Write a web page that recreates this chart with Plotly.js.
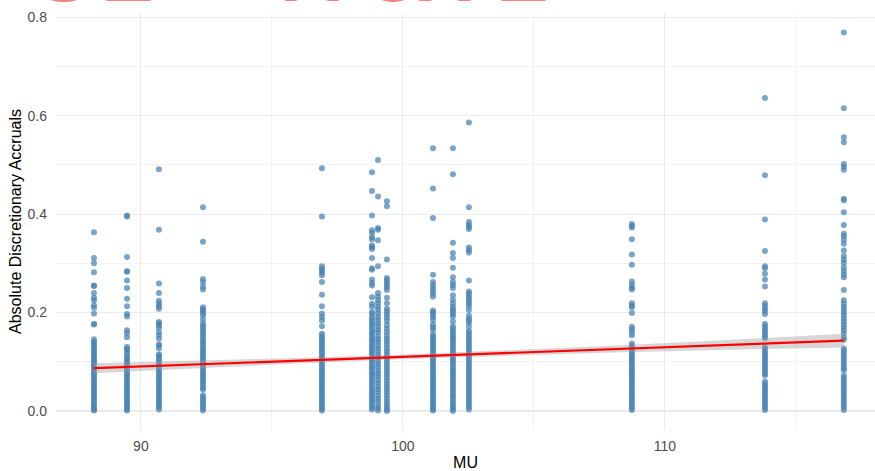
<!DOCTYPE html>
<html>
<head>
<meta charset="utf-8">
<script src="https://cdn.plot.ly/plotly-3.0.1.min.js"></script>
<style>html,body{margin:0;padding:0;background:#fff;}#chart{width:875px;height:471px;}</style>
</head>
<body>
<div id="chart"></div>
<script>
// MU levels (x positions of the vertical point columns)
const muLevels = [88.21, 89.47, 90.69, 92.37, 96.91, 98.82, 99.05, 99.39, 101.15, 101.91, 102.52, 108.74, 113.82, 116.83];

// Absolute discretionary accruals per MU level
const aa_88_21 = [0.363,0.311,0.300,0.282,0.255,0.254,0.240,0.230,0.225,0.215,0.210,0.198,0.177,0.176,
  0.146,0.141,0.137,0.132,0.128,0.124,0.119,0.115,0.111,0.106,0.102,0.098,0.093,0.089,0.085,0.080,0.076,0.072,0.067,0.063,0.059,0.054,0.050,0.046,0.041,0.037,0.033,0.028,0.024,0.020,0.015,0.011,0.007,0.003,0.001];
const aa_89_47 = [0.397,0.395,0.313,0.284,0.283,0.265,0.250,0.228,0.213,0.197,0.192,0.164,0.158,0.150,0.130,0.126,0.123,
  0.117,0.112,0.107,0.103,0.098,0.094,0.089,0.085,0.080,0.075,0.071,0.066,0.062,0.057,0.053,0.048,0.044,0.039,0.035,0.030,0.026,0.021,0.017,0.012,0.008,0.004,0.001];
const aa_90_69 = [0.491,0.368,0.259,0.240,0.224,0.218,0.213,0.208,0.181,0.178,0.174,0.169,0.160,0.154,0.147,0.135,0.133,0.127,0.115,0.113,
  0.108,0.104,0.099,0.094,0.090,0.085,0.081,0.076,0.071,0.067,0.062,0.058,0.053,0.049,0.044,0.039,0.035,0.030,0.026,0.021,0.017,0.012,0.008,0.003];
const aa_92_37 = [0.414,0.344,0.268,0.262,0.253,0.247,0.211,0.207,0.203,0.199,0.194,0.186,0.178,0.173,0.168,0.163,0.158,0.153,0.147,0.142,0.137,0.131,0.126,
  0.121,0.116,0.112,0.107,0.102,0.098,0.093,0.089,0.084,0.079,0.075,0.070,0.066,0.061,0.057,0.052,0.047,0.044,0.032,0.028,0.023,0.019,0.014,0.010,0.005,0.001];
const aa_96_91 = [0.493,0.395,0.294,0.289,0.285,0.281,0.276,0.262,0.236,0.213,0.198,0.191,0.184,0.172,0.157,0.153,0.148,0.144,0.139,0.135,0.130,0.126,0.121,0.117,
  0.112,0.108,0.103,0.099,0.094,0.090,0.085,0.081,0.076,0.072,0.067,0.063,0.058,0.054,0.049,0.045,0.040,0.036,0.031,0.027,0.022,0.018,0.013,0.009,0.004,0.001];
const aa_98_82 = [0.485,0.447,0.397,0.367,0.362,0.353,0.349,0.336,0.333,0.329,0.311,0.290,0.287,0.267,0.260,0.255,0.231,0.218,0.212,0.201,0.197,
  0.190,0.185,0.180,0.176,0.171,0.166,0.161,0.157,0.152,0.147,0.143,0.138,0.133,0.129,0.124,0.119,0.115,0.110,0.105,0.101,0.096,0.091,0.087,0.082,0.077,0.073,0.068,0.063,0.059,0.054,0.049,0.045,0.040,0.035,0.031,0.026,0.021,0.017,0.012,0.007,0.003];
const aa_99_05 = [0.510,0.436,0.372,0.368,0.347,0.294,0.240,0.232,0.225,0.219,0.212,0.206,0.198,0.191,0.185,0.178,0.172,0.165,0.160,0.152,0.146,0.140,0.133,0.127,
  0.121,0.114,0.108,0.101,0.095,0.089,0.082,0.076,0.070,0.063,0.057,0.050,0.044,0.038,0.031,0.025,0.019,0.012,0.006,0.001];
const aa_99_39 = [0.426,0.416,0.308,0.270,0.266,0.261,0.256,0.251,0.246,0.230,0.219,0.208,0.202,0.196,0.190,0.183,0.175,0.167,0.160,0.153,0.147,0.141,0.135,0.128,
  0.122,0.116,0.110,0.104,0.098,0.092,0.086,0.080,0.074,0.068,0.062,0.056,0.050,0.044,0.038,0.032,0.026,0.020,0.014,0.008,0.003,0.000];
const aa_101_15 = [0.534,0.452,0.392,0.277,0.262,0.256,0.250,0.245,0.238,0.232,0.204,0.200,0.196,0.191,0.185,0.176,0.170,0.166,0.157,0.152,0.148,0.143,0.139,0.134,0.130,
  0.125,0.121,0.116,0.112,0.107,0.103,0.098,0.094,0.089,0.085,0.080,0.076,0.071,0.067,0.062,0.058,0.053,0.049,0.044,0.040,0.035,0.031,0.026,0.022,0.017,0.013,0.008,0.004,0.001];
const aa_101_91 = [0.534,0.481,0.342,0.321,0.311,0.291,0.272,0.262,0.256,0.250,0.235,0.226,0.219,0.212,0.207,0.202,0.197,0.192,0.182,0.172,0.167,0.162,0.157,0.152,0.148,
  0.143,0.138,0.133,0.128,0.124,0.119,0.114,0.109,0.104,0.100,0.095,0.090,0.085,0.080,0.076,0.071,0.066,0.061,0.056,0.052,0.047,0.042,0.037,0.032,0.028,0.023,0.018,0.013,0.008,0.004,0.000];
const aa_102_52 = [0.586,0.414,0.384,0.378,0.374,0.370,0.332,0.327,0.322,0.265,0.243,0.238,0.233,0.228,0.223,0.218,0.213,0.205,0.194,0.188,0.184,0.180,0.172,0.163,0.158,
  0.153,0.148,0.143,0.138,0.133,0.128,0.123,0.118,0.113,0.108,0.103,0.098,0.093,0.088,0.083,0.078,0.073,0.068,0.063,0.058,0.053,0.048,0.043,0.038,0.033,0.028,0.023,0.018,0.013,0.008,0.003];
const aa_108_74 = [0.380,0.376,0.373,0.349,0.318,0.297,0.263,0.256,0.251,0.247,0.219,0.214,0.211,0.199,0.171,0.166,0.160,0.154,
  0.137,0.132,0.128,0.123,0.119,0.114,0.110,0.105,0.101,0.096,0.092,0.087,0.083,0.078,0.074,0.069,0.065,0.060,0.056,0.051,0.047,0.042,0.038,0.033,0.029,0.024,0.020,0.015,0.011,0.006,0.002];
const aa_113_82 = [0.636,0.479,0.389,0.325,0.294,0.290,0.279,0.267,0.253,0.219,0.214,0.208,0.203,0.197,0.177,0.172,0.167,0.162,0.157,0.152,0.148,
  0.130,0.126,0.121,0.117,0.112,0.108,0.103,0.099,0.094,0.090,0.085,0.081,0.076,0.072,0.060,0.055,0.051,0.046,0.042,0.037,0.033,0.028,0.024,0.019,0.015,0.010,0.006,0.002];
const aa_116_83 = [0.769,0.615,0.556,0.546,0.502,0.496,0.490,0.431,0.428,0.404,0.378,0.360,0.355,0.348,0.340,0.326,0.315,0.308,0.301,0.292,0.285,0.278,0.272,0.246,
  0.225,0.218,0.212,0.206,0.200,0.194,0.188,0.182,0.176,0.170,0.164,0.158,0.150,0.145,
  0.127,0.122,0.117,0.112,0.107,0.102,0.097,0.092,0.087,0.083,0.072,0.067,0.062,0.057,0.052,0.047,0.042,0.037,0.032,0.027,0.022,0.017,0.012,0.007,0.002];

const aaByLevel = [aa_88_21, aa_89_47, aa_90_69, aa_92_37, aa_96_91, aa_98_82, aa_99_05, aa_99_39, aa_101_15, aa_101_91, aa_102_52, aa_108_74, aa_113_82, aa_116_83];

// Linear fit and its confidence band
const fitMU    = [88.21, 92, 96, 100, 104, 108, 112, 116.83];
const fitAA    = [0.087, 0.0944, 0.1023, 0.1101, 0.1179, 0.1258, 0.1336, 0.143];
const fitLower = [0.077, 0.0869, 0.0968, 0.1056, 0.1129, 0.1190, 0.1241, 0.129];
const fitUpper = [0.097, 0.1019, 0.1078, 0.1146, 0.1229, 0.1326, 0.1431, 0.157];

// Axis ticks
const xTicks = [90, 100, 110];
const xMinorTicks = [95, 105, 115];
const yTicks = [0, 0.2, 0.4, 0.6, 0.8];
const yTickText = ['0.0', '0.2', '0.4', '0.6', '0.8'];
const yMinorTicks = [0.1, 0.3, 0.5, 0.7];

const px = [], py = [];
muLevels.forEach((m, i) => { aaByLevel[i].forEach(v => { px.push(m); py.push(v); }); });

const traces = [
  { type: 'scatter', mode: 'markers', x: px, y: py, hoverinfo: 'x+y',
    marker: { size: 6, color: 'rgba(70,130,180,0.72)', line: { width: 0 } }, showlegend: false },
  { type: 'scatter', mode: 'lines', x: fitMU, y: fitLower, line: { width: 0 }, hoverinfo: 'skip', showlegend: false },
  { type: 'scatter', mode: 'lines', x: fitMU, y: fitUpper, line: { width: 0 }, fill: 'tonexty',
    fillcolor: 'rgba(153,153,153,0.4)', hoverinfo: 'skip', showlegend: false },
  { type: 'scatter', mode: 'lines', x: fitMU, y: fitAA, line: { color: '#FF0000', width: 2.2 }, showlegend: false }
];

const FONT = 'Liberation Sans, Arial, sans-serif';
const gridC = '#EBEBEB';

// clipped large title letters at the top of the picture
const titleLetters = ['S', 'Z', 'A', 'O', 'X', 'Z'];
const titleLetterX = [63, 128, 312, 393, 444, 523];
const annotations = titleLetters.map((t, i) => ({
  text: '<b>' + t + '</b>', xref: 'paper', yref: 'paper',
  x: (titleLetterX[i] - 56) / 819, y: 0.981, yshift: 0.5, xanchor: 'center', yanchor: 'bottom',
  showarrow: false, font: { family: FONT, size: 80, color: '#FF7F7F' }
}));

const layout = {
  width: 875, height: 471,
  margin: { l: 56, r: 0, t: 13, b: 41, pad: 0 },
  paper_bgcolor: '#FFFFFF', plot_bgcolor: '#FFFFFF',
  showlegend: false,
  font: { family: FONT },
  xaxis: {
    range: [86.76, 118.02], tickvals: xTicks, ticktext: xTicks.map(String),
    showgrid: true, gridcolor: gridC, gridwidth: 1.1, zeroline: false, showline: false, ticks: '',
    tickfont: { family: FONT, size: 14, color: '#4D4D4D' }, ticklabelstandoff: 6,
    minor: { tickvals: xMinorTicks, showgrid: true, gridcolor: gridC, gridwidth: 0.6, ticks: '' },
    title: { text: 'MU', font: { family: FONT, size: 16, color: '#000000' }, standoff: 5 }
  },
  yaxis: {
    range: [-0.0385, 0.8085], tickvals: yTicks, ticktext: yTickText,
    showgrid: true, gridcolor: gridC, gridwidth: 1.1, zeroline: false, showline: false, ticks: '',
    tickfont: { family: FONT, size: 14, color: '#4D4D4D' }, ticklabelstandoff: 8,
    minor: { tickvals: yMinorTicks, showgrid: true, gridcolor: gridC, gridwidth: 0.6, ticks: '' },
    title: { text: 'Absolute Discretionary Accruals', font: { family: FONT, size: 16, color: '#000000' }, standoff: 1 }
  },
  annotations: annotations
};

Plotly.newPlot('chart', traces, layout, { displayModeBar: false, staticPlot: true });
</script>
</body>
</html>
